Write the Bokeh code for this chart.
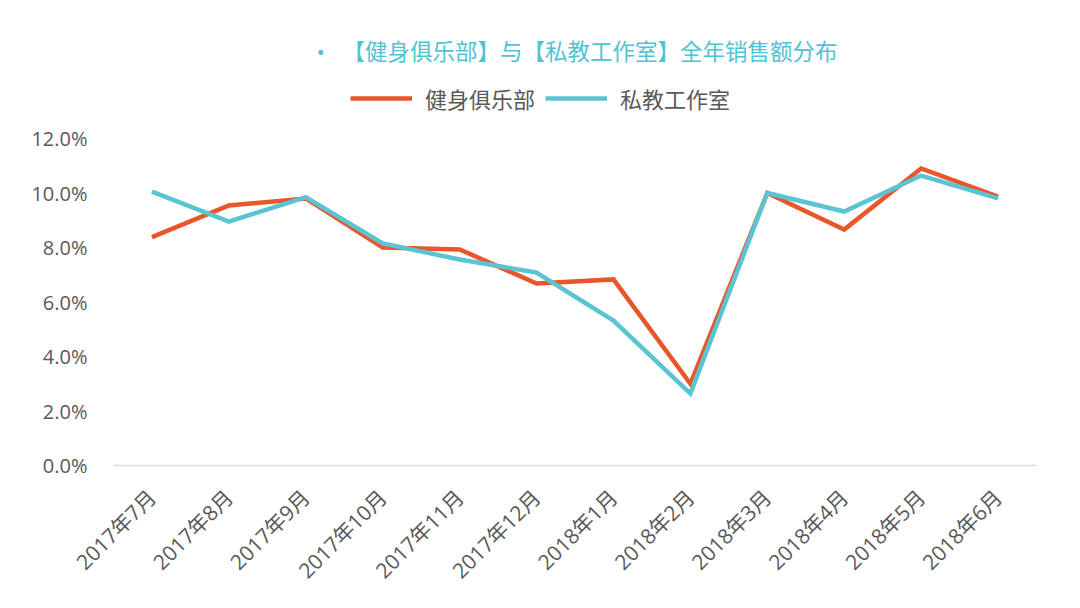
import math
from bokeh.plotting import figure
from bokeh.models import (FactorRange, Range1d, FixedTicker, NumeralTickFormatter,
                          Legend, LegendItem, Label)
from bokeh.embed import file_html
from bokeh.resources import INLINE

months = ["2017年7月", "2017年8月", "2017年9月", "2017年10月", "2017年11月", "2017年12月",
          "2018年1月", "2018年2月", "2018年3月", "2018年4月", "2018年5月", "2018年6月"]
club = [0.0838, 0.0954, 0.0980, 0.0800, 0.0793, 0.0668, 0.0683, 0.0300, 0.1000, 0.0866, 0.1090, 0.0987]
studio = [0.1005, 0.0895, 0.0985, 0.0815, 0.0756, 0.0708, 0.0532, 0.0264, 0.1000, 0.0932, 0.1064, 0.0980]
series_names = ["健身俱乐部", "私教工作室"]
title_text = "•" + "\u00a0" * 3 + "【健身俱乐部】与【私教工作室】全年销售额分布"
y_ticks = [0.0, 0.02, 0.04, 0.06, 0.08, 0.10, 0.12]

ORANGE = "#E8562A"
BLUE = "#5BC4D3"
GRAY = "#595959"
FONT = "'Open Sans', 'Noto Sans CJK SC'"

# frame spans canvas y 30..465; 0..12% occupies the lower 327 px
Y_TOP = 0.12 * 435 / 327

p = figure(width=1064, height=600, x_range=FactorRange(*months, range_padding=0),
           y_range=Range1d(0, Y_TOP), output_backend="svg", toolbar_location=None,
           min_border_left=113, min_border_right=28, min_border_top=30, min_border_bottom=135)
p.outline_line_color = None
p.background_fill_color = "white"
p.border_fill_color = "white"
p.xgrid.grid_line_color = None
p.ygrid.grid_line_color = None

r1 = p.line(months, club, line_color=ORANGE, line_width=4.5, line_join="miter")
r2 = p.line(months, studio, line_color=BLUE, line_width=4.5, line_join="miter")

# y axis
p.yaxis.ticker = FixedTicker(ticks=y_ticks)
p.yaxis.formatter = NumeralTickFormatter(format="0.0%")
p.yaxis.axis_line_color = None
p.yaxis.major_tick_line_color = None
p.yaxis.minor_tick_line_color = None
p.yaxis.major_label_standoff = 20
p.yaxis.major_label_text_font = FONT
p.yaxis.major_label_text_font_size = "20px"
p.yaxis.major_label_text_color = GRAY

# x axis
p.xaxis.axis_line_color = "#D9D9D9"
p.xaxis.axis_line_width = 1.5
p.xaxis.major_tick_line_color = None
p.xaxis.minor_tick_line_color = None
p.xaxis.major_label_orientation = math.pi / 4
p.xaxis.major_label_standoff = 22
p.xaxis.major_label_text_font = FONT
p.xaxis.major_label_text_font_size = "21px"
p.xaxis.major_label_text_color = GRAY

# title
p.add_layout(Label(x=203, y=414, x_units="screen", y_units="screen", text=title_text,
                   text_align="left", text_baseline="middle", text_color="#4FC3D4",
                   text_font=FONT, text_font_size="22.5px"))

# legend
legend = Legend(items=[LegendItem(label=series_names[0], renderers=[r1]),
                       LegendItem(label=series_names[1], renderers=[r2])],
                location=(237, 351), orientation="horizontal",
                padding=0, margin=0, spacing=10, glyph_width=62, glyph_height=22,
                label_height=22, label_standoff=13, border_line_color=None,
                background_fill_alpha=0, label_text_font=FONT,
                label_text_font_size="22px", label_text_color=GRAY)
p.add_layout(legend, "center")

open("out.html", "w").write(file_html(p, INLINE))
